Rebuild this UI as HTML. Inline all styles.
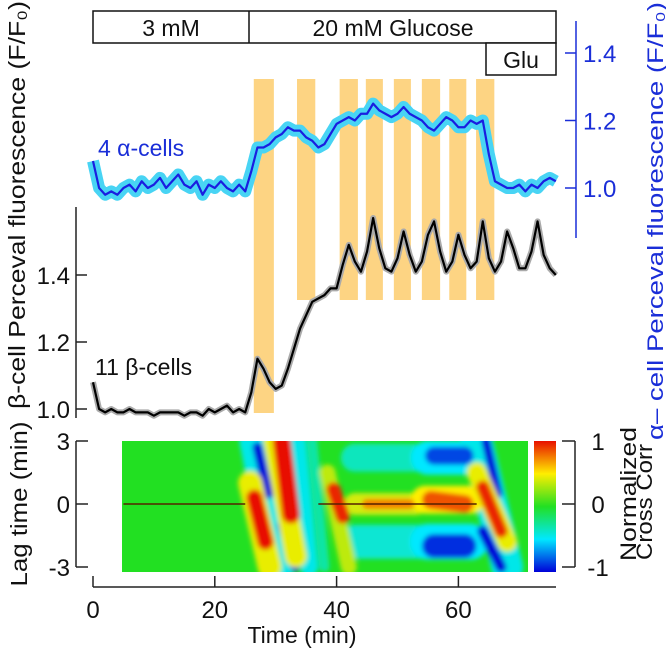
<!DOCTYPE html>
<html><head><meta charset="utf-8"><style>
html,body{margin:0;padding:0;background:#fff;}
svg{display:block;font-family:"Liberation Sans",Arial,sans-serif;}
</style></head><body>
<svg id="fig" width="666" height="651" viewBox="0 0 666 651" xmlns="http://www.w3.org/2000/svg">
<defs>
<clipPath id="hmclip"><rect x="122" y="441" width="406" height="131"/></clipPath>
<filter id="blur" x="-20%" y="-20%" width="140%" height="140%"><feGaussianBlur stdDeviation="2.5"/></filter>
<linearGradient id="cbar" x1="0" y1="1" x2="0" y2="0">
<stop offset="0" stop-color="#0000d8"/><stop offset="0.25" stop-color="#00e8ff"/><stop offset="0.5" stop-color="#22e022"/><stop offset="0.75" stop-color="#ffee00"/><stop offset="1" stop-color="#e81000"/>
</linearGradient>
</defs>
<g id="bars"></g>
<g id="traces"></g>
<g id="heat" clip-path="url(#hmclip)">
<rect x="122" y="441" width="406" height="131" fill="#22e022"/>
<g id="blobs" filter="url(#blur)"></g>
<g id="zeroline"></g>
</g>
<g id="axes" stroke="#222" stroke-width="1.5" fill="none"></g>
<g id="labels" fill="#111"></g>
<g stroke="#111" stroke-width="1.5" fill="#fff">
<rect x="93" y="11" width="463" height="32"/>
<line x1="249" y1="11" x2="249" y2="43"/>
<rect x="486" y="43" width="70" height="32"/>
</g>
<g font-size="23" fill="#111">
<text x="171" y="36" text-anchor="middle">3 mM</text>
<text x="393" y="36" text-anchor="middle">20 mM Glucose</text>
<text x="521" y="68" text-anchor="middle">Glu</text>
<text x="98" y="156" fill="#1a2ed8">4 α-cells</text>
<text x="95" y="375">11 β-cells</text>
<text x="302" y="643" text-anchor="middle">Time (min)</text>
<text transform="translate(25,205) rotate(-90)" text-anchor="middle" font-size="23" textLength="408" lengthAdjust="spacingAndGlyphs">β-cell Perceval fluorescence (F/F₀)</text>
<text transform="translate(27,504) rotate(-90)" text-anchor="middle" font-size="23" textLength="165" lengthAdjust="spacingAndGlyphs">Lag time (min)</text>
<text transform="translate(663,221) rotate(-90)" text-anchor="middle" fill="#1a2ed8" font-size="22" textLength="438" lengthAdjust="spacingAndGlyphs">α– cell Perceval fluorescence (F/F₀)</text>
<text transform="translate(636,494) rotate(-90)" text-anchor="middle" font-size="22" textLength="134" lengthAdjust="spacingAndGlyphs">Normalized</text>
<text transform="translate(652,502) rotate(-90)" text-anchor="middle" font-size="22" textLength="116" lengthAdjust="spacingAndGlyphs">Cross Corr</text>
</g>
<rect x="534" y="441" width="22" height="131" fill="url(#cbar)"/>
</svg>
<script>
const alphaT=[0,1,2,3,4,5,6,7,8,9,10,11,12,13,14,15,16,17,18,19,20,21,22,23,24,25,26,27,28,29,30,31,32,33,34,35,36,37,38,39,40,41,42,43,44,45,46,47,48,49,50,51,52,53,54,55,56,57,58,59,60,61,62,63,64,65,66,67,68,69,70,71,72,73,74,75,76];
const alphaV=[1.08,1.0,0.98,0.99,0.98,1.0,1.01,0.99,1.02,1.0,1.01,1.03,1.0,1.02,1.04,1.01,1.0,1.02,0.98,1.01,1.0,1.02,1.0,0.99,1.01,0.99,1.05,1.12,1.12,1.13,1.15,1.16,1.18,1.17,1.17,1.15,1.14,1.12,1.13,1.16,1.19,1.2,1.21,1.2,1.22,1.22,1.25,1.23,1.22,1.21,1.22,1.24,1.22,1.21,1.2,1.18,1.17,1.19,1.21,1.2,1.18,1.18,1.2,1.19,1.2,1.1,1.02,1.01,1.0,1.0,1.01,0.99,1.01,1.0,1.02,1.03,1.02];
const betaT=alphaT;
const betaV=[1.08,1.0,0.99,1.0,0.99,0.99,1.0,0.99,0.99,0.99,0.98,0.99,0.99,0.99,0.99,0.98,0.99,0.99,0.98,1.0,0.99,1.0,1.01,0.99,1.0,0.99,1.05,1.15,1.12,1.08,1.06,1.07,1.12,1.18,1.24,1.28,1.32,1.33,1.34,1.36,1.36,1.43,1.49,1.44,1.41,1.47,1.57,1.48,1.42,1.41,1.45,1.53,1.46,1.41,1.44,1.52,1.56,1.47,1.41,1.44,1.52,1.46,1.42,1.44,1.56,1.45,1.41,1.44,1.53,1.48,1.42,1.42,1.47,1.56,1.46,1.42,1.40];
const stimStart=[26.4,33.5,40.5,44.8,49.4,54.0,58.5,62.9];
const stimEnd=[29.7,36.5,43.5,47.6,52.2,57.0,61.3,65.9];
const xTicks=[0,20,40,60];
const betaTicks=[1.0,1.2,1.4];
const alphaTicks=[1.0,1.2,1.4];
const lagTicks=[-3,0,3];
const cbTicks=[-1,0,1];
const hmT1=[26.5,33.5,43,43,36,55,55,63,27,31,56,56,64.5,64,25.8,29.8,38.5,43,54.5,63,26.5,31,39.5,45,55.5,64];
const hmL1=[3,3,-1.8,2.2,3,2.2,-1.8,3,2.7,-1,2.3,-2,3,-1.3,1,3,1.5,0,0.2,1.5,0.3,3,0.7,0,0.2,0.8];
const hmT2=[30.5,35.5,55,55,38,62,62,68,28.8,33.2,61,61,66.5,67,29,33.3,42,53,62,68,28.3,32.5,41,52,61,67];
const hmL2=[-3,-3,-1.8,2.2,-3,2.2,-1.8,-3,0.5,-3,2.3,-2,0.5,-3,-3,-2.5,-3,0,0.2,-1.8,-1.8,-0.5,-0.6,0,0,-1.3];
const hmV=[-0.45,-0.45,-0.4,-0.35,-0.3,-0.5,-0.5,-0.45,-1,-0.9,-0.85,-0.9,-1,-1,0.45,0.45,0.35,0.4,0.5,0.45,1,1,0.95,0.75,0.85,0.95];
const hmW=[30,18,34,28,10,34,36,32,10,9,18,24,9,11,24,22,16,22,28,20,16,18,14,10,18,13];

const NS="http://www.w3.org/2000/svg";
const X=t=>93+t*6.09;
const YB=v=>409-(v-1)*335;
const YA=v=>188-(v-1)*337.5;
const YL=l=>504-l*21;
function mk(tag,attrs,parent){const e=document.createElementNS(NS,tag);for(const k in attrs)e.setAttribute(k,attrs[k]);parent.appendChild(e);return e;}
function jet(v){const s=[[-1,[0,0,216]],[-0.5,[0,232,255]],[0,[34,224,34]],[0.5,[255,238,0]],[1,[232,16,0]]];
 for(let i=0;i<4;i++){if(v<=s[i+1][0]){const f=(v-s[i][0])/(s[i+1][0]-s[i][0]);const c=s[i][1].map((a,j)=>Math.round(a+(s[i+1][1][j]-a)*f));return 'rgb('+c.join(',')+')';}}return 'rgb(232,16,0)';}

const bars=document.getElementById('bars');
for(let i=0;i<stimStart.length;i++){
 const r=mk('rect',{x:X(stimStart[i]),y:79,width:X(stimEnd[i])-X(stimStart[i]),height:(i===0?413:300)-79,fill:'#fdd483'},bars);
 
 
}
const tr=document.getElementById('traces');
const ap=alphaT.map((t,i)=>X(t)+','+YA(alphaV[i])).join(' ');
const bp=betaT.map((t,i)=>X(t)+','+YB(betaV[i])).join(' ');
let e;
e=mk('polyline',{points:ap,fill:'none',stroke:'#48d4f4','stroke-width':12,'stroke-linejoin':'round'},tr);


e=mk('polyline',{points:ap,fill:'none',stroke:'#1a1ee0','stroke-width':2.2,'stroke-linejoin':'round'},tr);


e=mk('polyline',{points:bp,fill:'none',stroke:'#aaa','stroke-width':6,'stroke-linejoin':'round'},tr);


e=mk('polyline',{points:bp,fill:'none',stroke:'#000','stroke-width':2.2,'stroke-linejoin':'round'},tr);



const bl=document.getElementById('blobs');
for(let i=0;i<hmV.length;i++){
 const l=mk('line',{x1:X(hmT1[i]),y1:YL(hmL1[i]),x2:X(hmT2[i]),y2:YL(hmL2[i]),stroke:jet(hmV[i]),'stroke-width':hmW[i],'stroke-linecap':'round'},bl);
 
 
}
const zl=document.getElementById('zeroline');
[[5,25],[37,63]].forEach(s=>{const l=mk('line',{x1:X(s[0]),y1:YL(0),x2:X(s[1]),y2:YL(0),stroke:'#552200','stroke-width':1.5},zl);
 
 });

const ax=document.getElementById('axes'), lb=document.getElementById('labels');
function txt(x,y,s,anchor,fill,name){const t=mk('text',{x:x,y:y,'text-anchor':anchor,'font-size':24,fill:fill,stroke:'none'},lb);t.textContent=s;}
mk('line',{x1:93,y1:587,x2:556,y2:587},ax);
xTicks.forEach(t=>{mk('line',{x1:X(t),y1:576,x2:X(t),y2:587},ax);txt(X(t),618,String(t),'middle','#111','x-tick-label');});
mk('line',{x1:76,y1:207,x2:76,y2:418},ax);
betaTicks.forEach(v=>{mk('line',{x1:76,y1:YB(v),x2:87,y2:YB(v)},ax);txt(70,YB(v)+9,v.toFixed(1),'end','#111','beta-tick-label');});
const aa=mk('g',{stroke:'#1a2ed8'},ax);
mk('line',{x1:576,y1:21,x2:576,y2:238},aa);
alphaTicks.forEach(v=>{mk('line',{x1:565,y1:YA(v),x2:576,y2:YA(v)},aa);txt(583,YA(v)+9,v.toFixed(1),'start','#1a2ed8','alpha-tick-label');});
mk('line',{x1:76,y1:YL(3),x2:76,y2:YL(-3)},ax);
lagTicks.forEach(v=>{mk('line',{x1:76,y1:YL(v),x2:88,y2:YL(v)},ax);txt(70,YL(v)+9,String(v),'end','#111','lag-tick-label');});
mk('line',{x1:575,y1:YL(3),x2:575,y2:YL(-3)},ax);
cbTicks.forEach(v=>{mk('line',{x1:562,y1:YL(v*3),x2:575,y2:YL(v*3)},ax);txt(598,YL(v*3)+9,String(v),'middle','#111','colorbar-tick-label');});
</script>
</body></html>
